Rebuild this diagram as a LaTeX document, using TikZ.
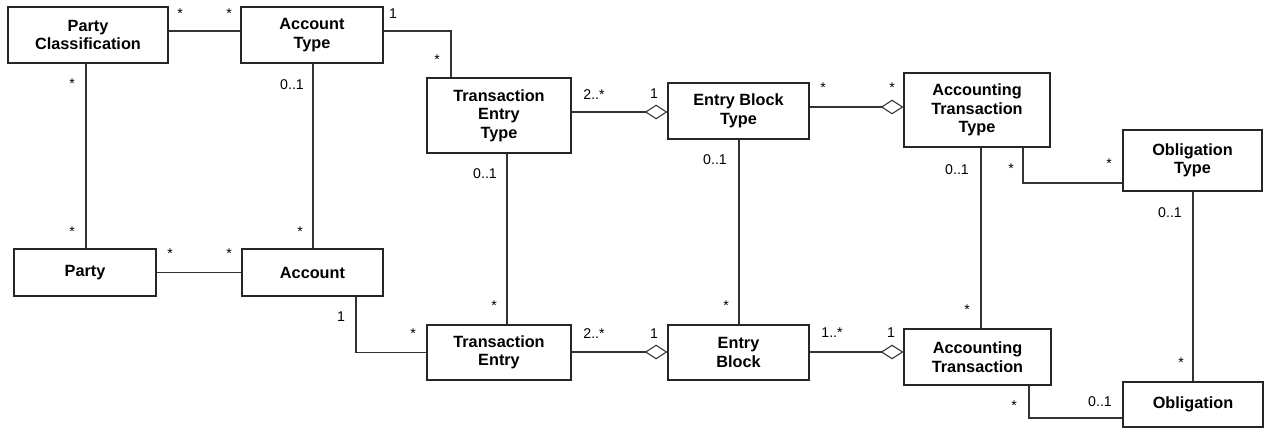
\documentclass[tikz,border=0pt]{standalone}
\usepackage{fontspec}
\setmainfont{Liberation Sans}
\usetikzlibrary{arrows.meta}

% class box from its corner coordinates (x1,y1) to (x2,y2), in pixel-like units
\newcommand{\umlclass}[6]{%
  \node[cls, minimum width={(#4-#2)*0.75pt}, minimum height={(#5-#3)*0.75pt}]
    (#1) at ({(#2+#4)/2},{(#3+#5)/2}) {#6};}

\tikzset{
  cls/.style={draw=black!85, line width=0.85pt, fill=white, inner sep=0pt,
    align=center, font=\fontsize{12.2}{13.9}\selectfont\bfseries},
  assoc/.style={draw=black!80, line width=0.8pt},
  aggr/.style={assoc, -{Diamond[open, fill=white, length=17pt, width=11pt]}},
  mult/.style={inner sep=0pt, font=\fontsize{10.6}{12}\selectfont},
}

\begin{document}
\begin{tikzpicture}[x=0.75pt, y=-0.75pt]
\useasboundingbox (0,0) rectangle (1264,428);

% classes
\umlclass{pc}{8}{7}{168}{63}{Party\\Classification}
\umlclass{acctype}{241}{7}{383}{63}{Account\\Type}
\umlclass{party}{14}{249}{156}{296}{Party}
\umlclass{acc}{242}{249}{383}{296}{Account}
\umlclass{tet}{427}{78}{571}{153}{Transaction\\Entry\\Type}
\umlclass{te}{427}{325}{571}{380}{Transaction\\Entry}
\umlclass{ebt}{668}{83}{809}{139}{Entry Block\\Type}
\umlclass{eb}{668}{325}{809}{380}{Entry\\Block}
\umlclass{att}{904}{73}{1050}{147}{Accounting\\Transaction\\Type}
\umlclass{act}{904}{329}{1051}{385}{Accounting\\Transaction}
\umlclass{ot}{1123}{130}{1262}{191}{Obligation\\Type}
\umlclass{ob}{1123}{382}{1263}{427}{Obligation}

% associations
\draw[assoc] (pc.east |- {(0,31)}) -- (acctype.west |- {(0,31)});
\draw[assoc] (acctype.east |- {(0,31)}) -| (tet.north -| {(451,0)});
\draw[assoc] (pc.south -| {(86,0)}) -- (party.north -| {(86,0)});
\draw[assoc] (acctype.south -| {(313,0)}) -- (acc.north -| {(313,0)});
\draw[assoc] (party.east) -- (acc.west);
\draw[assoc] (acc.south -| {(356,0)}) |- (te.west);
\draw[assoc] (tet.south -| {(507,0)}) -- (te.north -| {(507,0)});
\draw[assoc] (ebt.south -| {(739,0)}) -- (eb.north -| {(739,0)});
\draw[assoc] (att.south -| {(981,0)}) -- (act.north -| {(981,0)});
\draw[assoc] (att.south -| {(1023,0)}) |- (ot.west |- {(0,183)});
\draw[assoc] (ot.south -| {(1193,0)}) -- (ob.north -| {(1193,0)});
\draw[assoc] (act.south -| {(1029,0)}) |- (ob.west |- {(0,418)});

% aggregations
\draw[aggr] (tet.east |- {(0,112)}) -- (ebt.west |- {(0,112)});
\draw[aggr] (ebt.east |- {(0,107)}) -- (att.west |- {(0,107)});
\draw[aggr] (te.east |- {(0,352)}) -- (eb.west |- {(0,352)});
\draw[aggr] (eb.east |- {(0,352)}) -- (act.west |- {(0,352)});

% multiplicities
\node[mult] (m1) at (180,14) {*};
\node[mult] (m2) at (229,14) {*};
\node[mult] (m3) at (393,14) {1};
\node[mult] (m4) at (437,60) {*};
\node[mult] (m5) at (72,84) {*};
\node[mult] (m6) at (292,85) {0..1};
\node[mult] (m7) at (72,232) {*};
\node[mult] (m8) at (300,232) {*};
\node[mult] (m9) at (170,254) {*};
\node[mult] (m10) at (229,254) {*};
\node[mult] (m11) at (341,317) {1};
\node[mult] (m12) at (413,334) {*};
\node[mult] (m13) at (594,334) {2..*};
\node[mult] (m14) at (654,334) {1};
\node[mult] (m15) at (832,333) {1..*};
\node[mult] (m16) at (891,333) {1};
\node[mult] (m17) at (494,306) {*};
\node[mult] (m18) at (726,306) {*};
\node[mult] (m19) at (485,174) {0..1};
\node[mult] (m20) at (715,160) {0..1};
\node[mult] (m21) at (594,95) {2..*};
\node[mult] (m22) at (654,94) {1};
\node[mult] (m23) at (823,88) {*};
\node[mult] (m24) at (892,88) {*};
\node[mult] (m25) at (957,170) {0..1};
\node[mult] (m26) at (1011,169) {*};
\node[mult] (m27) at (1109,164) {*};
\node[mult] (m28) at (1170,213) {0..1};
\node[mult] (m29) at (967,310) {*};
\node[mult] (m30) at (1181,363) {*};
\node[mult] (m31) at (1014,406) {*};
\node[mult] (m32) at (1100,402) {0..1};
\end{tikzpicture}
\end{document}
